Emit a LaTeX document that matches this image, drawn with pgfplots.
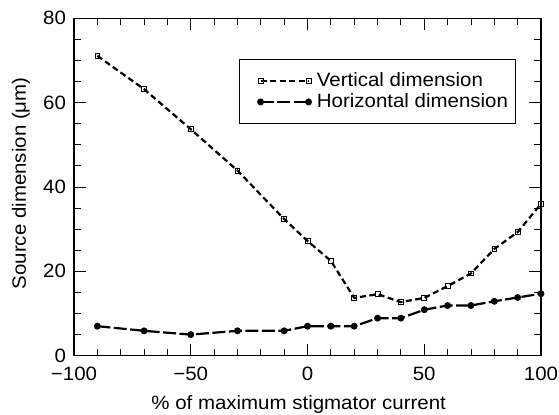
\documentclass[border=0pt]{standalone}
\usepackage{fontspec}
\setmainfont{Liberation Sans}[FakeStretch=1.06]
\usepackage{pgfplots}
\pgfplotsset{compat=1.18}

\begin{document}
\begin{tikzpicture}
\useasboundingbox (-74bp,-59.3bp) rectangle (485bp,355.7bp);
\begin{axis}[
    at={(0,0)}, anchor=south west,
    width=467bp, height=337.4bp, scale only axis,
    xmin=-100, xmax=100, ymin=0, ymax=80,
    xtick={-100,-50,0,50,100},
    xticklabels={−100,−50,0,50,100},
    ytick={0,20,40,60,80},
    minor x tick num=4, minor y tick num=3,
    tick align=inside,
    major tick length=12bp, minor tick length=7bp,
    every tick/.style={black, line width=0.9bp},
    axis line style={line width=1.1bp},
    font=\fontsize{19.3bp}{23bp}\selectfont,
    tick label style={font=\fontsize{19.3bp}{23bp}\selectfont},
    xticklabel style={yshift=-8bp},
    yticklabel style={xshift=-4.5bp},
    /pgf/number format/assume math mode=true,
    xlabel={\% of maximum stigmator current},
    xlabel style={at={(axis description cs:0.481,0)}, anchor=base, yshift=-53.5bp},
    ylabel={Source dimension (μm)},
    ylabel style={at={(axis description cs:-0.1028,0.511)}, anchor=base, rotate=0},
    legend cell align=left,
    legend style={at={(0.3533,0.8794)}, anchor=north west,
        font=\fontsize{19.3bp}{22bp}\selectfont,
        draw=black, line width=0.9bp,
        inner xsep=7bp, inner ysep=12bp, row sep=2bp,
        nodes={inner sep=0pt, text height=15bp, text depth=4bp},
        /tikz/every odd column/.append style={column sep=6bp}},
    legend image code/.code={
        \path (-13bp,0bp);
        \draw[#1] plot coordinates {(0bp,0bp) (48bp,0bp)};
    },
]
\addplot[black, line width=2.2bp, dash pattern=on 6bp off 3.5bp,
    mark=square, mark size=2.4bp, mark options={solid, line width=0.8bp}]
    coordinates {
    (-90,71.1) (-70,63.2) (-50,53.7) (-30,43.9) (-10,32.4)
    (0,27.2) (10,22.5) (20,13.7) (30,14.6) (40,12.7)
    (50,13.7) (60,16.5) (70,19.5) (80,25.3) (90,29.3) (100,36)
};
\addlegendentry{Vertical dimension}
\addplot[black, line width=2.2bp, dash pattern=on 13bp off 3.5bp,
    mark=*, mark size=2.3bp, mark options={solid}]
    coordinates {
    (-90,7.0) (-70,5.9) (-50,5.0) (-30,5.9) (-10,5.9)
    (0,7.0) (10,7.0) (20,7.0) (30,8.9) (40,8.9)
    (50,10.9) (60,11.9) (70,11.9) (80,12.9) (90,13.8) (100,14.7)
};
\addlegendentry{Horizontal dimension}
\end{axis}
\end{tikzpicture}
\end{document}
